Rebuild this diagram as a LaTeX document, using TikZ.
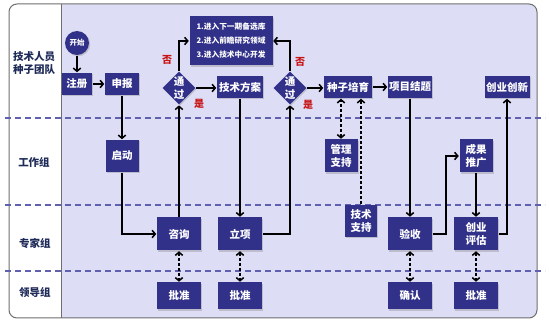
\documentclass[tikz,border=0pt]{standalone}
\usepackage{fontspec}
\setmainfont{Noto Sans CJK SC}
\usetikzlibrary{arrows.meta,shapes.geometric,shadows}
\definecolor{lanebg}{RGB}{221,221,245}
\definecolor{boxblue}{RGB}{50,49,138}
\definecolor{dashblue}{RGB}{96,96,176}
\definecolor{lanetext}{RGB}{30,42,88}
\definecolor{framegray}{RGB}{110,110,110}
\definecolor{labred}{RGB}{200,20,20}

\begin{document}
\begin{tikzpicture}[x=1pt,y=-1pt,line width=1.5pt,>={Straight Barb[length=3.2pt,width=7.5pt]},
  box/.style={fill=boxblue,text=white,font=\bfseries\fontsize{10.5}{13}\selectfont,
    inner sep=1pt,align=center,minimum width=44,minimum height=33,
    drop shadow={opacity=0.35,shadow xshift=1.2pt,shadow yshift=-1.2pt}},
  gate/.style={box,diamond,inner sep=0pt,minimum width=33,minimum height=33},
  lane/.style={font=\bfseries\fontsize{10.5}{12.5}\selectfont,text=lanetext,align=center},
  verdict/.style={font=\bfseries\fontsize{10}{11}\selectfont,text=labred},
  dbl/.style={<->,dash pattern=on 3pt off 2pt}]
\useasboundingbox (0,0) rectangle (550,326);
% 外框与泳道背景
\begin{scope}
\clip[rounded corners=8] (9,4) rectangle (537,318);
\fill[lanebg] (61,4) rectangle (537,318);
\fill[white] (9,4) rectangle (61,318);
\end{scope}
\draw[framegray,line width=1pt,rounded corners=8] (9,4) rectangle (537,318);
\draw[framegray,line width=1pt] (61,4) -- (61,318);
% 泳道分隔线
\foreach \y in {118,205,271}
  \draw[dashblue,line width=1.2pt,dash pattern=on 6pt off 4pt] (5,\y) -- (545,\y);
% 泳道名称
\node[lane] (laneA) at (34,63) {技术人员\\种子团队};
\node[lane] (laneB) at (34,162) {工作组};
\node[lane] (laneC) at (35,243) {专家组};
\node[lane] (laneD) at (35,293) {领导组};
% 第一行
\node[box,circle,minimum width=24,minimum height=24,font=\bfseries\fontsize{7.5}{9}\selectfont] (start) at (77,43) {开始};
\node[box,minimum width=30,minimum height=22] (reg) at (77,84) {注册};
\node[box,minimum width=34,minimum height=22] (apply) at (122,84) {申报};
\node[gate] (passA) at (179,88) {通\\过};
\node[box,minimum width=46,minimum height=22] (plan) at (240,87) {技术方案};
\node[box,minimum width=83,minimum height=49,align=left,font=\bfseries\fontsize{7.7}{14}\selectfont] (pool) at (231,41)
  {1.进入下一期备选库\\2.进入前瞻研究领域\\3.进入技术中心开发};
\node[gate] (passB) at (290,88) {通\\过};
\node[box,minimum width=48,minimum height=22] (breed) at (348,87) {种子培育};
\node[box,minimum width=44,minimum height=22] (close) at (410,87) {项目结题};
\node[box,minimum width=45,minimum height=22] (venture) at (507,87) {创业创新};
% 是 / 否
\node[verdict] (noA) at (167,60) {否};
\node[verdict] (yesA) at (199,104) {是};
\node[verdict] (noB) at (300,62) {否};
\node[verdict] (yesB) at (308,105) {是};
% 工作组
\node[box,minimum width=33,minimum height=32] (launch) at (122,156) {启动};
\node[box,minimum width=33,minimum height=33] (mgmt) at (341,156) {管理\\支持};
\node[box,minimum width=33,minimum height=33] (promo) at (476,156) {成果\\推广};
% 专家组
\node[box] (consult) at (179,234) {咨询};
\node[box] (setup) at (240,234) {立项};
\node[box,minimum width=32,minimum height=32] (tech) at (361,221) {技术\\支持};
\node[box] (accept) at (410,234) {验收};
\node[box] (assess) at (476,234) {创业\\评估};
% 领导组
\node[box,minimum height=27] (okA) at (179,296) {批准};
\node[box,minimum height=27] (okB) at (240,296) {批准};
\node[box,minimum height=27] (confirm) at (410,296) {确认};
\node[box,minimum height=27] (okC) at (476,296) {批准};
% 主流程
\draw[->] (start) -- (reg);
\draw[->] (reg) -- (apply);
\draw[->] (apply) -- (launch);
\draw[->] (launch.south) |- (consult.west);
\draw[->] (consult) -- (passA);
\draw[->] (passA.north) |- (pool.west);
\draw[->] (passA) -- (passA -| plan.west);
\draw[->] (plan) -- (setup);
\draw[->] (setup.east) -| (passB.south);
\draw[->] (passB.north) |- (pool.east);
\draw[->] (passB) -- (passB -| breed.west);
\draw[->] (breed) -- (close);
\draw[->] (close) -- (accept);
\draw[->] (accept.east) -- ++(13,0) |- (promo.west);
\draw[->] (promo) -- (assess);
\draw[->] (assess.east) -| (venture.south);
% 支持与审批（虚线）
\draw[dbl] (mgmt.north) -- (mgmt.north |- breed.south);
\draw[->,dash pattern=on 3pt off 2pt] (tech.north) -- (tech.north |- breed.south);
\draw[dbl] (consult) -- (okA);
\draw[dbl] (setup) -- (okB);
\draw[dbl] (accept) -- (confirm);
\draw[dbl] (assess) -- (okC);
\end{tikzpicture}
\end{document}
